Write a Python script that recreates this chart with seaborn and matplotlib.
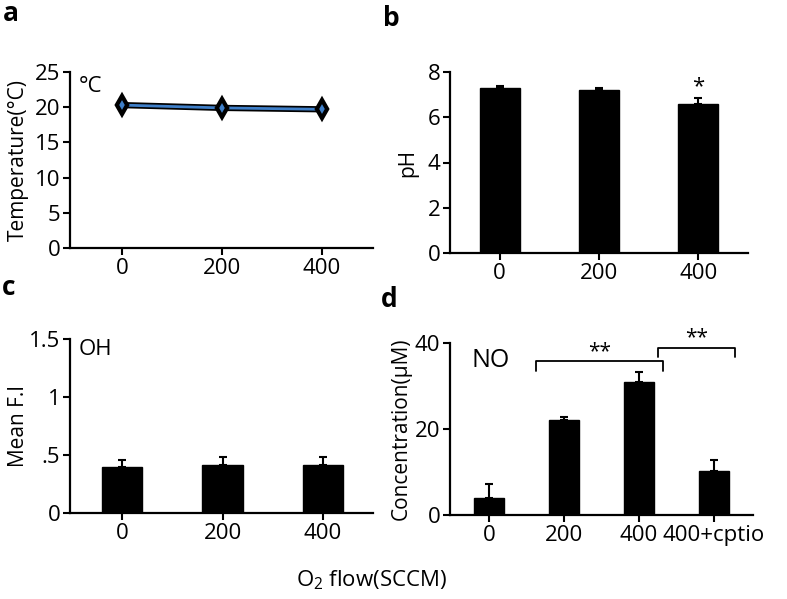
import matplotlib
matplotlib.use("Agg")
import matplotlib.pyplot as plt
import matplotlib.patheffects as pe
import seaborn as sns
import numpy as np
import pandas as pd

# ---- data ----
flow_labels = ["0", "200", "400"]
flow_values = [0, 200, 400]
temperature = [20.3, 19.9, 19.7]

ph_values = [7.3, 7.2, 6.6]
ph_err = [0.1, 0.08, 0.25]

oh_values = [0.40, 0.41, 0.41]
oh_err = [0.06, 0.07, 0.07]

no_labels = ["0", "200", "400", "400+cptio"]
no_values = [4.0, 22.0, 31.0, 10.3]
no_err = [3.2, 0.7, 2.2, 2.5]

sns.set_theme(style="ticks")
plt.rcParams['font.family'] = ['Open Sans', 'DejaVu Sans']
plt.rcParams['mathtext.fontset'] = 'custom'
plt.rcParams['mathtext.rm'] = 'Open Sans'
for k in ["text.color", "axes.labelcolor", "xtick.color", "ytick.color", "axes.edgecolor"]:
    plt.rcParams[k] = "black"

W, H = 787, 599
fig = plt.figure(figsize=(W / 100, H / 100), dpi=100)

def box(l, r, t, b):
    return [l / W, 1 - b / H, (r - l) / W, (b - t) / H]

ax_a = fig.add_axes(box(70, 373, 72, 248))
ax_b = fig.add_axes(box(450, 748, 72, 253))
ax_c = fig.add_axes(box(70, 373, 339, 513))
ax_d = fig.add_axes(box(450, 753, 343, 515))

TICK_FS = 16
LAB_FS = 15

def style(ax):
    sns.despine(ax=ax)
    for s in ["left", "bottom"]:
        ax.spines[s].set_linewidth(1.6)
        ax.spines[s].set_color("black")
    ax.tick_params(axis="both", direction="out", length=5, width=1.5,
                   labelsize=TICK_FS, colors="black", pad=2)
    ax.set_xlabel("")

def ylab(ax, text, right_px):
    ax.set_ylabel(text, fontsize=LAB_FS)
    l = ax.get_position().x0 * W
    w = ax.get_position().width * W
    ax.yaxis.set_label_coords((right_px - l) / w, 0.5)

# ---- panel a ----
df_a = pd.DataFrame({"flow": flow_values, "temp": temperature})
sns.lineplot(data=df_a, x="flow", y="temp", ax=ax_a, color="#3f7fc8",
             linewidth=2.0, marker="d", markersize=7,
             markerfacecolor="#3f7fc8", markeredgecolor="black",
             markeredgewidth=1.5,
             path_effects=[pe.Stroke(linewidth=4.5, foreground="black"), pe.Normal()])
ax_a.set_xlim(-104, 502)
ax_a.set_ylim(0, 25)
ax_a.set_yticks([0, 5, 10, 15, 20, 25])
ax_a.set_xticks(flow_values)
ax_a.set_xticklabels(flow_labels)
style(ax_a)
ylab(ax_a, "Temperature(°C)", 29)
ax_a.text(0.03, 0.98, "°C", transform=ax_a.transAxes, fontsize=16, va="top", ha="left")

# ---- bars helper ----
def bars(ax, labels, vals, errs, width):
    df = pd.DataFrame({"g": labels, "v": vals})
    sns.barplot(data=df, x="g", y="v", ax=ax, color="black", edgecolor="black",
                width=width, errorbar=None, saturation=1)
    xs = np.arange(len(labels))
    ax.errorbar(xs, vals, yerr=[np.zeros(len(vals)), errs], fmt="none",
                ecolor="black", elinewidth=1.5, capsize=3, capthick=1.5)
    ax.set_ylabel("")

# ---- panel b ----
bars(ax_b, flow_labels, ph_values, ph_err, 0.4)
ax_b.set_xlim(-0.5, 2.5)
ax_b.set_ylim(0, 8)
ax_b.set_yticks([0, 2, 4, 6, 8])
style(ax_b)
ylab(ax_b, "pH", 418)
ax_b.text(2, ph_values[2] + ph_err[2] + 0.05, "*", ha="center", va="bottom", fontsize=16)

# ---- panel c ----
bars(ax_c, flow_labels, oh_values, oh_err, 0.4)
ax_c.set_xlim(-0.52, 2.5)
ax_c.set_ylim(0, 1.5)
ax_c.set_yticks([0, 0.5, 1, 1.5])
ax_c.set_yticklabels(["0", ".5", "1", "1.5"])
style(ax_c)
ylab(ax_c, "Mean F.I", 29)
ax_c.text(0.03, 1.0, "OH", transform=ax_c.transAxes, fontsize=16, va="top", ha="left")

# ---- panel d ----
bars(ax_d, no_labels, no_values, no_err, 0.4)
ax_d.set_xlim(-0.52, 3.52)
ax_d.set_ylim(0, 40)
ax_d.set_yticks([0, 20, 40])
style(ax_d)
ylab(ax_d, "Concentration(μM)", 412)
ax_d.text(0.07, 0.97, "NO", transform=ax_d.transAxes, fontsize=18, va="top", ha="left")

def bracket(ax, x0, x1, y, drop, label, ly):
    ax.plot([x0, x0, x1, x1], [y - drop, y, y, y - drop], color="black", lw=1.3,
            clip_on=False)
    ax.text((x0 + x1) / 2, ly, label, ha="center", va="center", fontsize=15)

bracket(ax_d, 0.63, 2.32, 35.8, 2.3, "**", 38.0)
bracket(ax_d, 2.25, 3.28, 38.8, 2.1, "**", 41.2)

# ---- panel letters & shared label ----
for lab, x, y in [("a", 3, 21), ("b", 383, 26), ("c", 2, 295), ("d", 381, 307)]:
    fig.text(x / W, 1 - y / H, lab, fontsize=19, fontweight="bold", ha="left", va="baseline")

fig.text(372 / W, 1 - 586 / H, r"O$_2$ flow(SCCM)", fontsize=16, ha="center", va="baseline")

fig.savefig("out.png", dpi=100)
